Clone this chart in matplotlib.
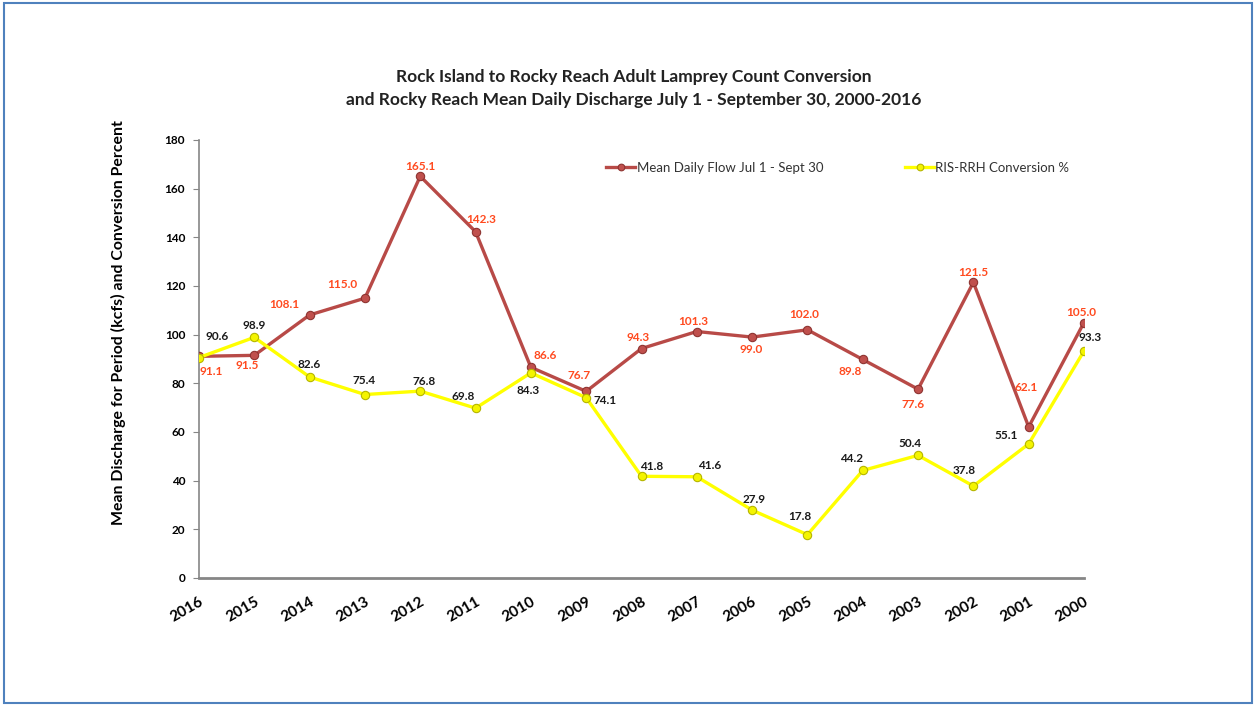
import numpy as np
import matplotlib.pyplot as plt
from matplotlib.patches import Rectangle

plt.rcParams['font.family'] = ['Lato', 'DejaVu Sans']

years = ["2016", "2015", "2014", "2013", "2012", "2011", "2010", "2009", "2008",
         "2007", "2006", "2005", "2004", "2003", "2002", "2001", "2000"]
flow = [91.1, 91.5, 108.1, 115.0, 165.1, 142.3, 86.6, 76.7, 94.3,
        101.3, 99.0, 102.0, 89.8, 77.6, 121.5, 62.1, 105.0]
conversion = [90.6, 98.9, 82.6, 75.4, 76.8, 69.8, 84.3, 74.1, 41.8,
              41.6, 27.9, 17.8, 44.2, 50.4, 37.8, 55.1, 93.3]

# label offsets in pixels (dx, dy), dy positive = up
flow_off = [(12, -15), (-7, -10), (-25, 10), (-23, 14), (0, 10), (6, 12), (14, 12),
            (-7, 16), (-3, 11), (-4, 10), (-1, -12), (-3, 15), (-13, -12),
            (-5, -15), (0, 10), (-3, 39), (-3, 10)]
conv_off = [(18, 21), (0, 12), (-1, 13), (-1, 14), (4, 10), (-12, 12), (-3, -18),
            (19, -3), (10, 10), (13, 11), (2, 11), (-8, 18), (-11, 12), (-8, 12),
            (-9, 16), (-23, 8), (6, 13)]

fig = plt.figure(figsize=(12.54, 7.06), dpi=100)
fig.patches.append(Rectangle((4 / 1254, 3 / 706), 1248 / 1254, 700 / 706,
                             transform=fig.transFigure, fill=False,
                             edgecolor="#4F81BD", linewidth=1.5))

ax = fig.add_axes([199 / 1254, 1 - 578 / 706, 885 / 1254, 438 / 706])

x = np.arange(len(years))

ax.plot(x, flow, color="#B84A47", linewidth=2.4, marker="o", markersize=6,
        markerfacecolor="#C0504D", markeredgecolor="#8E3431", markeredgewidth=0.8,
        label="Mean Daily Flow Jul 1 - Sept 30", zorder=3)
ax.plot(x, conversion, color="#FFFF00", linewidth=2.4, marker="o", markersize=6,
        markerfacecolor="#F4F400", markeredgecolor="#B5B500", markeredgewidth=0.8,
        label="RIS-RRH Conversion %", zorder=4)

for i in range(len(years)):
    ax.annotate(f"{flow[i]:.1f}", (x[i], flow[i]), xytext=flow_off[i],
                textcoords="offset pixels", ha="center", va="center",
                fontsize=8.5, fontweight="bold", color="#FF4A1F", zorder=6)
    ax.annotate(f"{conversion[i]:.1f}", (x[i], conversion[i]), xytext=conv_off[i],
                textcoords="offset pixels", ha="center", va="center",
                fontsize=8.5, fontweight="bold", color="#1A1A1A", zorder=6)

ax.set_xlim(0, 16)
ax.set_ylim(0, 180)
ax.set_yticks(np.arange(0, 181, 20))
ax.set_xticks(x)
ax.set_xticklabels(years, rotation=30, ha="right", va="top",
                   rotation_mode="anchor", fontsize=11, fontweight="bold")
for lab in ax.get_yticklabels():
    lab.set_fontweight("bold")
    lab.set_fontsize(8.5)

ax.tick_params(axis="x", length=0, pad=12)
ax.tick_params(axis="y", length=4, color="#868686", direction="out", pad=6)

for side in ["top", "right"]:
    ax.spines[side].set_visible(False)
for side in ["left", "bottom"]:
    ax.spines[side].set_color("#868686")
ax.spines["left"].set_linewidth(1.2)
ax.spines["bottom"].set_linewidth(2)

fig.text(118 / 1254, 1 - 323 / 706,
         "Mean Discharge for Period (kcfs) and Conversion Percent",
         rotation=90, ha="center", va="center", fontsize=11.4, fontweight="bold")

leg = ax.legend(loc="upper right", bbox_to_anchor=(0.997, 0.977), ncol=2,
                frameon=False, fontsize=9.5, handlelength=2.2, handletextpad=0.1,
                columnspacing=6.2, markerscale=0.8)
for t in leg.get_texts():
    t.set_color("#333333")

fig.text(634 / 1254, 1 - 77 / 706, "Rock Island to Rocky Reach Adult Lamprey Count Conversion",
         ha="center", va="center", fontsize=12.5, fontweight="bold", color="#222222")
fig.text(634 / 1254, 1 - 100 / 706, "and Rocky Reach Mean Daily Discharge July 1 - September 30, 2000-2016",
         ha="center", va="center", fontsize=12.5, fontweight="bold", color="#222222")

fig.savefig("out.png", dpi=100)
